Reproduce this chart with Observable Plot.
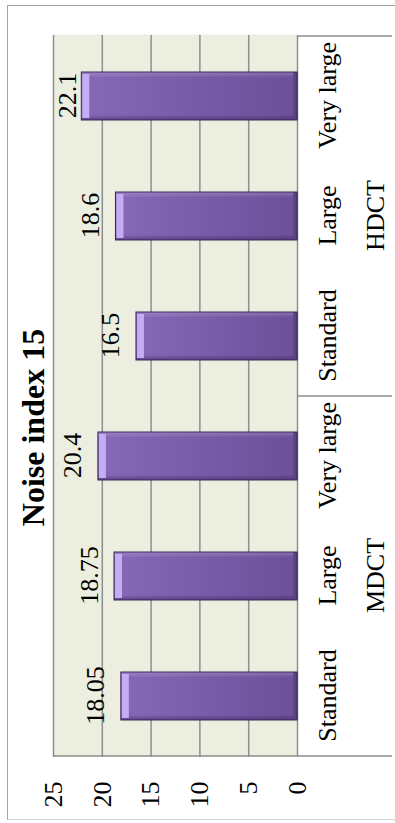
<!DOCTYPE html>
<html><head><meta charset="utf-8">
<script src="https://cdn.jsdelivr.net/npm/d3@7"></script>
<script src="https://cdn.jsdelivr.net/npm/@observablehq/plot@0.6"></script>
<style>
html,body{margin:0;padding:0;overflow:hidden;background:#fff;width:395px;height:823px;}
#rot{position:absolute;left:0;top:0;width:823px;height:395px;transform-origin:0 0;transform:translate(0,823px) rotate(-90deg);}
#chart{position:absolute;left:0;top:0;width:823px;height:395px;}
#border{position:absolute;left:3px;top:7px;width:815px;height:430px;box-sizing:border-box;border-top:1.5px solid #a4a4a4;border-right:1.5px solid #a4a4a4;border-left:1.5px solid #d4d4d4;pointer-events:none;}
#title{position:absolute;left:0;top:17px;width:791px;text-align:center;font:bold 32px/32px "Liberation Serif",serif;margin:0;color:#000;}
</style></head><body>
<div id="rot"><div id="chart"></div><div id="border"></div><div id="title"></div></div>
<script>
const title = "Noise index 15";
const groups = ["MDCT", "MDCT", "MDCT", "HDCT", "HDCT", "HDCT"];
const sizes = ["Standard", "Large", "Very large", "Standard", "Large", "Very large"];
const values = [18.05, 18.75, 20.4, 16.5, 18.6, 22.1];
const valueLabels = ["18.05", "18.75", "20.4", "16.5", "18.6", "22.1"];
const yTicks = [0, 5, 10, 15, 20, 25];

document.getElementById("title").textContent = title;

const keys = groups.map((g, i) => g + "|" + sizes[i]);
const data = values.map((v, i) => ({key: keys[i], group: groups[i], size: sizes[i], value: v, label: valueLabels[i]}));
const groupNames = [...new Set(groups)];
const groupCenters = groupNames.map(g => {
  const ks = keys.filter((k, i) => groups[i] === g);
  return {group: g, key: ks[Math.floor(ks.length / 2)]};
});

const plot = Plot.plot({
  width: 823, height: 395,
  marginLeft: 66, marginRight: 35, marginTop: 53, marginBottom: 98,
  style: {fontFamily: '"Liberation Serif", serif', fontSize: "26px", color: "#000", background: "transparent"},
  x: {domain: keys, paddingInner: 0.6, paddingOuter: 0.3, tickSize: 0, tickPadding: 20, tickFormat: k => k.split("|")[1], label: null},
  y: {domain: [0, 25], ticks: yTicks, tickSize: 0, tickPadding: 25, label: null},
  marks: [
    Plot.frame({fill: "#ECEFDF", stroke: null}),
    Plot.ruleY(yTicks, {stroke: "#8e8e8e", strokeWidth: 1.5}),
    Plot.barY(data, {x: "key", y: "value", fill: "url(#faceGrad)"}),
    Plot.barY(data, {x: "key", y: "value", fill: "url(#sideGrad)"}),
    Plot.tickY(data, {x: "key", y: "value", stroke: "#C6ACF3", strokeWidth: 7, dy: 4, insetLeft: 2, insetRight: 2}),
    Plot.tickY(data, {x: "key", y: 0, stroke: "#5a4185", strokeWidth: 4, dy: -2}),
    Plot.barY(data, {x: "key", y: "value", fill: "none", stroke: "#3a2856", strokeWidth: 1}),
    Plot.text(data, {x: "key", y: d => Math.min(d.value, 21), text: "label", dy: -17, lineAnchor: "bottom"}),
    Plot.text(groupCenters, {x: "key", text: "group", frameAnchor: "bottom", dy: 86, lineAnchor: "bottom"})
  ]
});
document.getElementById("chart").appendChild(plot);

const svg = d3.select(plot);
const defs = svg.insert("defs", ":first-child");
const fg = defs.append("linearGradient").attr("id", "faceGrad").attr("x1", 0).attr("y1", 0).attr("x2", 0).attr("y2", 1);
fg.append("stop").attr("offset", 0).attr("stop-color", "#8668B7");
fg.append("stop").attr("offset", 1).attr("stop-color", "#6C4F99");
const sg = defs.append("linearGradient").attr("id", "sideGrad").attr("x1", 0).attr("y1", 0).attr("x2", 1).attr("y2", 0);
sg.append("stop").attr("offset", 0).attr("stop-color", "#2d1950").attr("stop-opacity", 0.45);
sg.append("stop").attr("offset", 0.11).attr("stop-color", "#2d1950").attr("stop-opacity", 0);
sg.append("stop").attr("offset", 0.88).attr("stop-color", "#ffffff").attr("stop-opacity", 0);
sg.append("stop").attr("offset", 1).attr("stop-color", "#ffffff").attr("stop-opacity", 0.2);

// category-table separator lines, from the library's x and y scales
const xs = plot.scale("x"), ys = plot.scale("y");
const bw = xs.bandwidth;
const step = xs.step ?? (xs.apply(keys[1]) - xs.apply(keys[0]));
const gap = (step - bw) / 2;
const vTop = ys.apply(25), vBase = ys.apply(0), vEnd = vBase + 95;
const lines = [{u: xs.apply(keys[0]) - gap, v1: vTop}];
keys.forEach((k, i) => { if (i > 0 && groups[i] !== groups[i - 1]) lines.push({u: xs.apply(k) - gap, v1: vBase}); });
lines.push({u: xs.apply(keys[keys.length - 1]) + bw + gap, v1: vBase});
svg.append("g").selectAll("line").data(lines).join("line")
  .attr("x1", d => d.u).attr("x2", d => d.u).attr("y1", d => d.v1).attr("y2", vEnd)
  .attr("stroke", "#8e8e8e").attr("stroke-width", 1.5);
</script>
</body></html>
